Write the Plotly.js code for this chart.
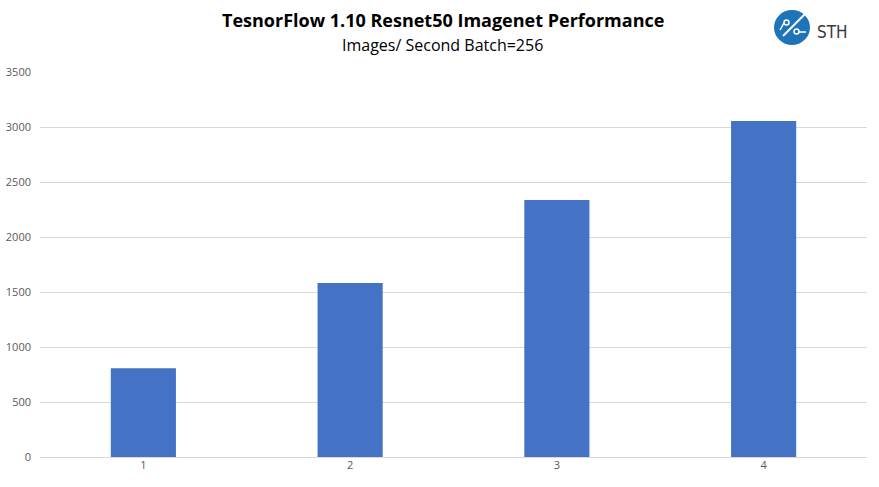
<!DOCTYPE html>
<html>
<head>
<meta charset="utf-8">
<script src="https://cdn.plot.ly/plotly-3.0.1.min.js"></script>
<style>html,body{margin:0;padding:0;background:#fff;}#chart{width:879px;height:487px;}</style>
</head>
<body>
<div id="chart"></div>
<script>
const categories = ["1", "2", "3", "4"];
const imagesPerSecond = [806, 1582, 2336, 3055];
const yTicks = [0, 500, 1000, 1500, 2000, 2500, 3000, 3500];

const trace = {
  type: "bar",
  x: categories,
  y: imagesPerSecond,
  marker: { color: "#4472C4" },
  hoverinfo: "x+y"
};

function logoShape(s) {
  return Object.assign({ xref: "paper", yref: "paper", xsizemode: "pixel", ysizemode: "pixel", xanchor: 1, yanchor: 1 }, s);
}

const layout = {
  width: 879,
  height: 487,
  margin: { l: 40, r: 12, t: 72, b: 30 },
  paper_bgcolor: "#ffffff",
  plot_bgcolor: "#ffffff",
  bargap: 0.685,
  showlegend: false,
  font: { family: "Open Sans, Liberation Sans, sans-serif", color: "#595959", size: 11 },
  xaxis: {
    type: "category",
    showgrid: false,
    showline: false,
    ticks: "",
    tickfont: { size: 11, color: "#595959" },
    fixedrange: true
  },
  yaxis: {
    range: [0, 3500],
    tickvals: yTicks,
    ticktext: yTicks.map(String),
    showgrid: true,
    gridcolor: "#d9d9d9",
    gridwidth: 1,
    zeroline: true,
    zerolinecolor: "#d9d9d9",
    zerolinewidth: 1,
    showline: false,
    ticks: "",
    ticklabelstandoff: 8,
    tickfont: { size: 11, color: "#595959" },
    fixedrange: true
  },
  annotations: [
    {
      text: "<b>TesnorFlow 1.10 Resnet50 Imagenet Performance</b>",
      xref: "paper", yref: "paper", x: 0.487, y: 1, yshift: 52,
      xanchor: "center", yanchor: "middle", showarrow: false,
      font: { family: "Open Sans, Liberation Sans, sans-serif", size: 18, color: "#000000" }
    },
    {
      text: "Images/ Second Batch=256",
      xref: "paper", yref: "paper", x: 0.487, y: 1, yshift: 27,
      xanchor: "center", yanchor: "middle", showarrow: false,
      font: { family: "Open Sans, Liberation Sans, sans-serif", size: 16, color: "#000000" }
    },
    {
      text: "STH",
      xref: "paper", yref: "paper", x: 1, xshift: -52, y: 1, yshift: 40,
      xanchor: "left", yanchor: "middle", showarrow: false,
      font: { family: "DejaVu Sans Condensed, Liberation Sans Narrow, sans-serif", size: 17, color: "#3a3a3a" }
    }
  ],
  shapes: [
    logoShape({ type: "circle", x0: -93, x1: -57, y0: 27, y1: 62, fillcolor: "#1f73b7", line: { width: 0 } }),
    logoShape({ type: "line", x0: -84, y0: 36, x1: -62, y1: 58, line: { color: "#ffffff", width: 2 } }),
    logoShape({ type: "circle", x0: -83, x1: -78, y0: 47, y1: 52, fillcolor: "#1f73b7", line: { color: "#ffffff", width: 1.5 } }),
    logoShape({ type: "circle", x0: -73, x1: -68, y0: 38, y1: 43, fillcolor: "#1f73b7", line: { color: "#ffffff", width: 1.5 } }),
    logoShape({ type: "line", x0: -83, y0: 49, x1: -87, y1: 42, line: { color: "#ffffff", width: 1.5 } }),
    logoShape({ type: "line", x0: -68, y0: 40, x1: -61, y1: 40, line: { color: "#ffffff", width: 1.5 } })
  ]
};

Plotly.newPlot("chart", [trace], layout, { displayModeBar: false, staticPlot: true });
</script>
</body>
</html>
